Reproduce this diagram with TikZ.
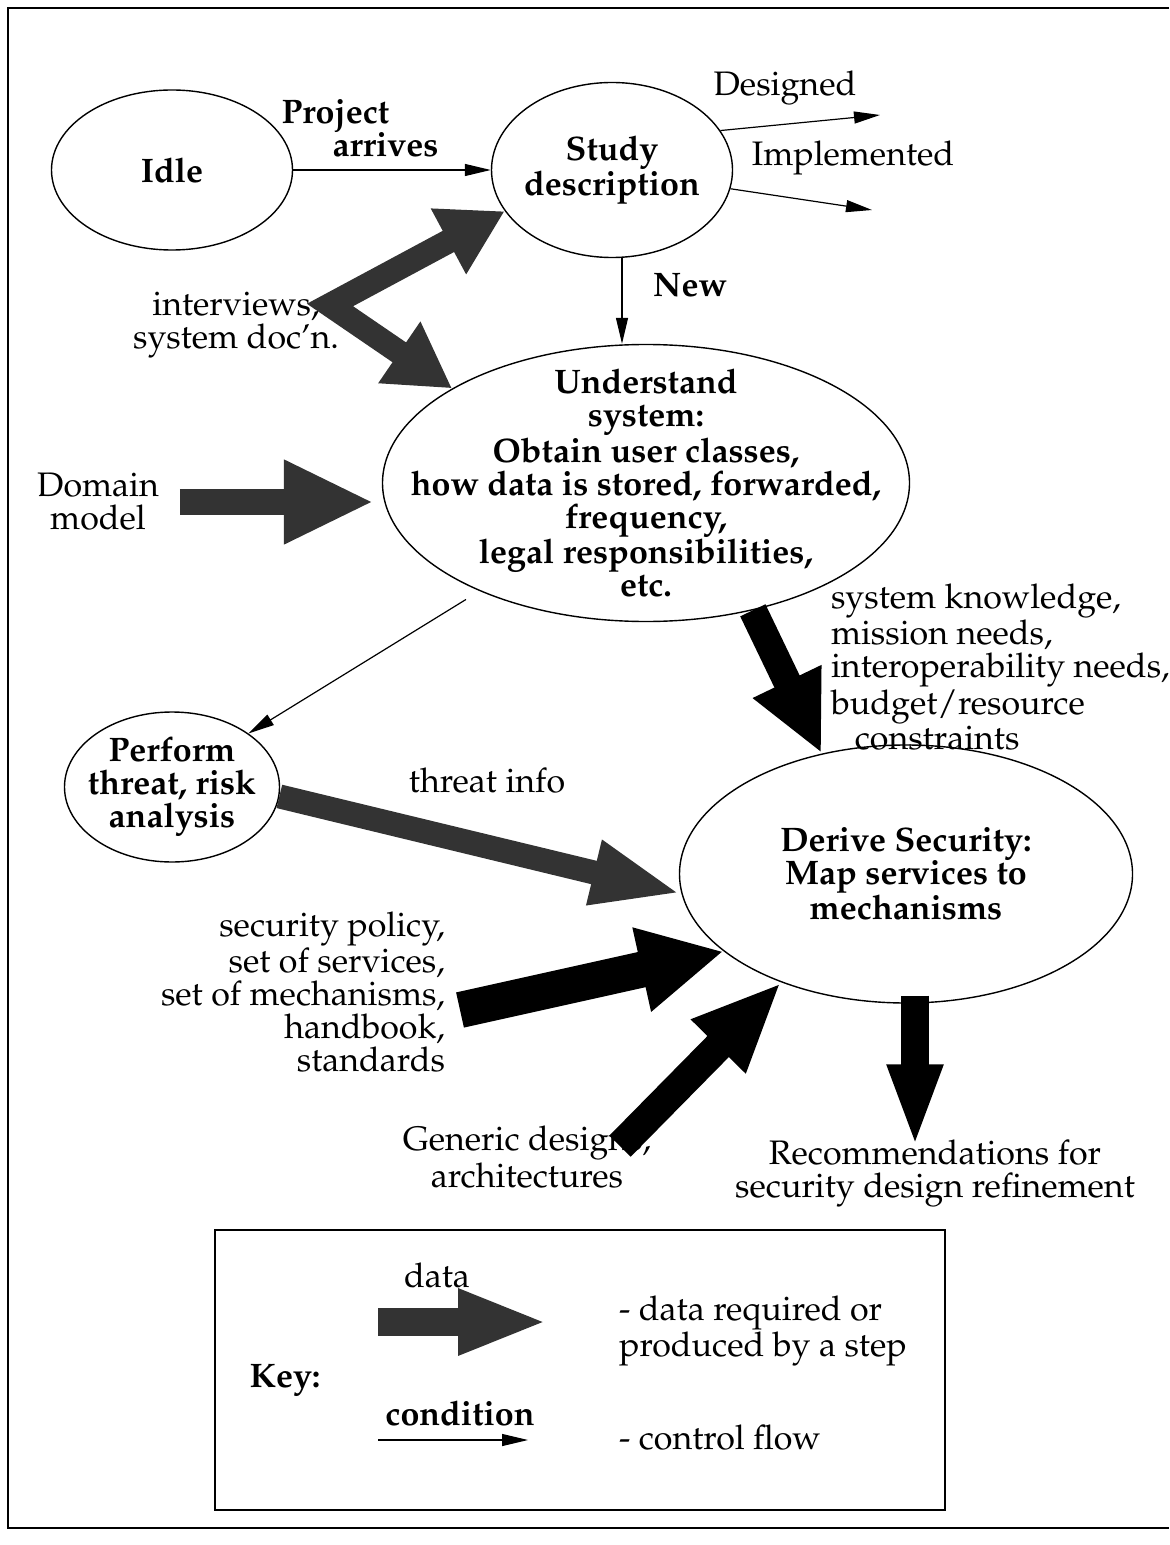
\documentclass[tikz,border=0pt]{standalone}
\usepackage[T1]{fontenc}
\usepackage{mathpazo}
\usepackage{tikz}
\usetikzlibrary{arrows.meta,shapes.geometric,calc}

\begin{document}
\begin{tikzpicture}[x=0.5pt,y=-0.5pt,
  font=\fontsize{17}{16.5}\selectfont,
  state/.style={draw,ellipse,line width=0.7pt,inner sep=0pt},
  statetext/.style={align=center,font=\fontsize{17}{16.5}\selectfont\bfseries},
  ctrl/.style={line width=0.6pt,-{Triangle[length=13pt,width=6pt]}},
  data/.style n args={3}{line width=#1,-{Triangle[length=#2,width=#3]}},
  twodata/.style n args={3}{line width=#1,line join=miter,
    {Triangle[length=#2,width=#3]}-{Triangle[length=#2,width=#3]}},
  grainy/.style={draw=black!80}]
\useasboundingbox (0,0) rectangle (1169,1545);
% Frame
\draw[line width=1pt] (1169,8) -- (8,8) -- (8,1528) -- (1169,1528);

% States
\node[state,minimum width=120.5pt,minimum height=80pt] (idle) at (172,170) {};
\node[statetext] (idletxt) at (idle) {Idle};
\node[state,minimum width=120.5pt,minimum height=87.5pt] (study) at (612,170) {};
\node[statetext] (studytxt) at (study) {Study\\description};
\node[state,minimum width=263.5pt,minimum height=138.5pt] (und) at (646,483) {};
\node[statetext] (undtxt) at (und) {Understand\\system:\\Obtain user classes,\\how data is stored, forwarded,\\frequency,\\legal responsibilities,\\etc.};
\node[state,minimum width=107.5pt,minimum height=75pt] (threat) at (172,787) {};
\node[statetext] (threattxt) at (threat) {Perform\\threat, risk\\analysis};
\node[state,minimum width=226.5pt,minimum height=129pt] (derive) at (906,874) {};
\node[statetext] (derivetxt) at (derive) {Derive Security:\\Map services to\\mechanisms};

% Control flow
\draw[ctrl] (idle) -- (study);
\node[statetext,align=left] (arrives) at (360,128) {Project\\\hspace*{1.5em}arrives};
\coordinate (dsgend) at (880,115);
\coordinate (impend) at (872,210);
\draw[ctrl] (study.20) -- (dsgend);
\draw[ctrl] (study.-9) -- (impend);
\node (dsg) at (785,88) {Designed};
\node (imp) at (853,158) {Implemented};
\coordinate (newtop) at ([xshift=5pt]study.south);
\draw[ctrl] (newtop) -- (newtop |- und.north);
\node[statetext] (new) at (690,285) {New};
\draw[ctrl,shorten <=8pt] (und.213) -- (threat.35);

% Data flow
\node[align=center] (intv) at (236,325) {interviews,\\system doc'n.};
\coordinate (iv) at (330,305);
\draw[twodata={12pt}{32pt}{35pt},grainy] (study.201) -- (iv) -- (und.154);

\node[align=center] (dom) at (98,502) {Domain\\model};
\draw[data={13pt}{45pt}{39pt},grainy,shorten >=4pt] ([xshift=7pt]dom.east) -- (dom.east -| und.west);

\node (tinfo) at (487,781) {threat info};
\draw[data={12pt}{45pt}{30pt},grainy] (threat.-5) -- (derive.185);

\node[align=left,anchor=west] (know) at (824,667) {system knowledge,\\mission needs,\\interoperability needs,\\budget/resource\\\hspace*{0.7em}constraints};
\draw[data={14pt}{40pt}{35pt}] (und.-50) -- (derive.125);

\node[align=right,anchor=east] (secpol) at (452,992) {security policy,\\set of services,\\set of mechanisms,\\handbook,\\standards};
\draw[data={18pt}{42pt}{40pt}] ([xshift=4pt,yshift=-9pt]secpol.east) -- (derive.203);

\node[align=center] (generic) at (527,1157) {Generic designs,\\architectures};
\draw[data={15pt}{45pt}{35pt}] ([xshift=46.5pt,yshift=-13.5pt]generic.north) -- (derive.221);

\node[align=center] (recomm) at (935,1173) {Recommendations for\\security design refinement};
\draw[data={14pt}{42pt}{25pt}] ([xshift=4.5pt,yshift=4pt]derive.south) -- ([xshift=-10pt,yshift=-8pt]recomm.north);

% Key
\draw[line width=0.8pt] (215,1230) rectangle (945,1510);
\node (kdata) at (437,1275) {data};
\coordinate (kda) at (378,1322);
\coordinate (kdb) at (548,1322);
\draw[data={14pt}{45pt}{30pt},grainy] (kda) -- (kdb);
\node[align=left,anchor=west] (kdtxt) at (612,1331) {- data required or\\produced by a step};
\node[statetext] (key) at (285,1380) {Key:};
\node[statetext] (kcond) at (460,1413) {condition};
\coordinate (kca) at (378,1440);
\coordinate (kcb) at (528,1440);
\draw[ctrl] (kca) -- (kcb);
\node[anchor=west] (kctxt) at (612,1438) {- control flow};
\end{tikzpicture}
\end{document}
